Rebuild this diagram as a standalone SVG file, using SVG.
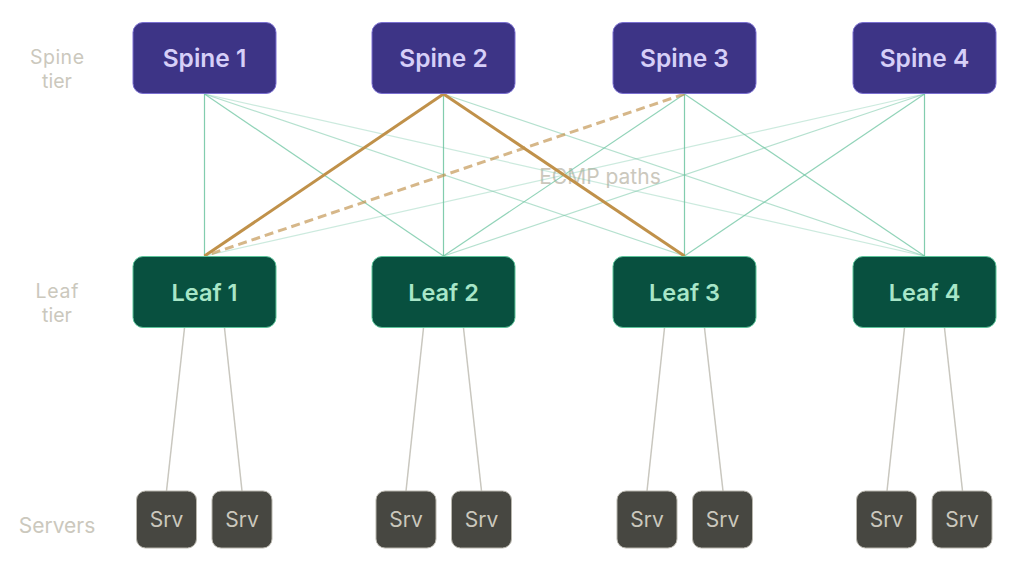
<svg xmlns="http://www.w3.org/2000/svg" width="1022" height="571" viewBox="0 0 1022 571">
<style>
.tier{font-family:Inter,"Noto Sans","Liberation Sans",sans-serif;font-size:21px;fill:#cbc8bd;text-anchor:middle}
.tier2{font-family:Inter,"Noto Sans","Liberation Sans",sans-serif;font-size:19.5px;fill:#cbc8bd;text-anchor:middle}
.spine rect{fill:#3d3486;stroke:#7a6fd0;stroke-width:1}
.spine text{font-family:Inter,"Noto Sans","Liberation Sans",sans-serif;font-size:24.5px;font-weight:600;fill:#d6cff8;text-anchor:middle}
.leaf rect{fill:#08503f;stroke:#5cc49a;stroke-width:1}
.leaf text{font-family:Inter,"Noto Sans","Liberation Sans",sans-serif;font-size:23.5px;font-weight:600;fill:#a8e6c8;text-anchor:middle}
.srv rect{fill:#474741;stroke:#b8b6ad;stroke-width:1}
.srv text{font-family:Inter,"Noto Sans","Liberation Sans",sans-serif;font-size:21px;fill:#cbc8bd;text-anchor:middle}
.e{stroke:#6cc4a0;stroke-width:1.2;fill:none}
.d0{opacity:.85}.d1{opacity:.75}.d2{opacity:.5}.d3{opacity:.35}
.s{stroke:#c9c7bf;stroke-width:1.5;fill:none}
.hl{stroke:#c0914a;stroke-width:3;fill:none}
.hd{stroke:#c0914a;stroke-width:3;fill:none;stroke-dasharray:9 5;opacity:.65}
</style>
<rect width="1022" height="571" fill="#ffffff"/>
<text class="tier2" x="57" y="64" textLength="54">Spine</text>
<text class="tier2" x="57" y="88">tier</text>
<text class="tier2" x="57" y="298" textLength="43">Leaf</text>
<text class="tier2" x="57" y="322">tier</text>
<text class="tier" x="57" y="533">Servers</text>
<text class="tier" x="600" y="184">ECMP paths</text>
<g id="connectors">
<line class="e d0" x1="204.5" y1="94" x2="204.5" y2="256"/>
<line class="e d1" x1="204.5" y1="94" x2="443.5" y2="256"/>
<line class="e d2" x1="204.5" y1="94" x2="684.5" y2="256"/>
<line class="e d3" x1="204.5" y1="94" x2="924.5" y2="256"/>
<line class="e d0" x1="443.5" y1="94" x2="443.5" y2="256"/>
<line class="e d2" x1="443.5" y1="94" x2="924.5" y2="256"/>
<line class="e d1" x1="684.5" y1="94" x2="443.5" y2="256"/>
<line class="e d0" x1="684.5" y1="94" x2="684.5" y2="256"/>
<line class="e d1" x1="684.5" y1="94" x2="924.5" y2="256"/>
<line class="e d3" x1="924.5" y1="94" x2="204.5" y2="256"/>
<line class="e d2" x1="924.5" y1="94" x2="443.5" y2="256"/>
<line class="e d1" x1="924.5" y1="94" x2="684.5" y2="256"/>
<line class="e d0" x1="924.5" y1="94" x2="924.5" y2="256"/>
<line class="hd" x1="684.5" y1="94" x2="204.5" y2="256"/>
<line class="hl" x1="443.5" y1="94" x2="204.5" y2="256"/>
<line class="hl" x1="443.5" y1="94" x2="684.5" y2="256"/>
<line class="s" x1="184.5" y1="328" x2="166.5" y2="491"/>
<line class="s" x1="224.5" y1="328" x2="242" y2="491"/>
<line class="s" x1="423.5" y1="328" x2="406" y2="491"/>
<line class="s" x1="463.5" y1="328" x2="481.5" y2="491"/>
<line class="s" x1="664.5" y1="328" x2="647" y2="491"/>
<line class="s" x1="704.5" y1="328" x2="723" y2="491"/>
<line class="s" x1="904.5" y1="328" x2="887" y2="491"/>
<line class="s" x1="944.5" y1="328" x2="962.5" y2="491"/>
</g>
<g id="spine1" class="spine"><rect x="133" y="22.5" width="143" height="71" rx="10"/><text x="204.5" y="67">Spine 1</text></g>
<g id="spine2" class="spine"><rect x="372" y="22.5" width="143" height="71" rx="10"/><text x="443.5" y="67">Spine 2</text></g>
<g id="spine3" class="spine"><rect x="613" y="22.5" width="143" height="71" rx="10"/><text x="684.5" y="67">Spine 3</text></g>
<g id="spine4" class="spine"><rect x="853" y="22.5" width="143" height="71" rx="10"/><text x="924.5" y="67">Spine 4</text></g>
<g id="leaf1" class="leaf"><rect x="133" y="256.5" width="143" height="71" rx="10"/><text x="204.5" y="301">Leaf 1</text></g>
<g id="leaf2" class="leaf"><rect x="372" y="256.5" width="143" height="71" rx="10"/><text x="443.5" y="301">Leaf 2</text></g>
<g id="leaf3" class="leaf"><rect x="613" y="256.5" width="143" height="71" rx="10"/><text x="684.5" y="301">Leaf 3</text></g>
<g id="leaf4" class="leaf"><rect x="853" y="256.5" width="143" height="71" rx="10"/><text x="924.5" y="301">Leaf 4</text></g>
<g id="srv1" class="srv"><rect x="136.5" y="491" width="60" height="57" rx="9"/><text x="166.5" y="527">Srv</text></g>
<g id="srv2" class="srv"><rect x="212" y="491" width="60" height="57" rx="9"/><text x="242" y="527">Srv</text></g>
<g id="srv3" class="srv"><rect x="376" y="491" width="60" height="57" rx="9"/><text x="406" y="527">Srv</text></g>
<g id="srv4" class="srv"><rect x="451.5" y="491" width="60" height="57" rx="9"/><text x="481.5" y="527">Srv</text></g>
<g id="srv5" class="srv"><rect x="617" y="491" width="60" height="57" rx="9"/><text x="647" y="527">Srv</text></g>
<g id="srv6" class="srv"><rect x="692.5" y="491" width="60" height="57" rx="9"/><text x="722.5" y="527">Srv</text></g>
<g id="srv7" class="srv"><rect x="856.5" y="491" width="60" height="57" rx="9"/><text x="886.5" y="527">Srv</text></g>
<g id="srv8" class="srv"><rect x="932" y="491" width="60" height="57" rx="9"/><text x="962" y="527">Srv</text></g>
</svg>
